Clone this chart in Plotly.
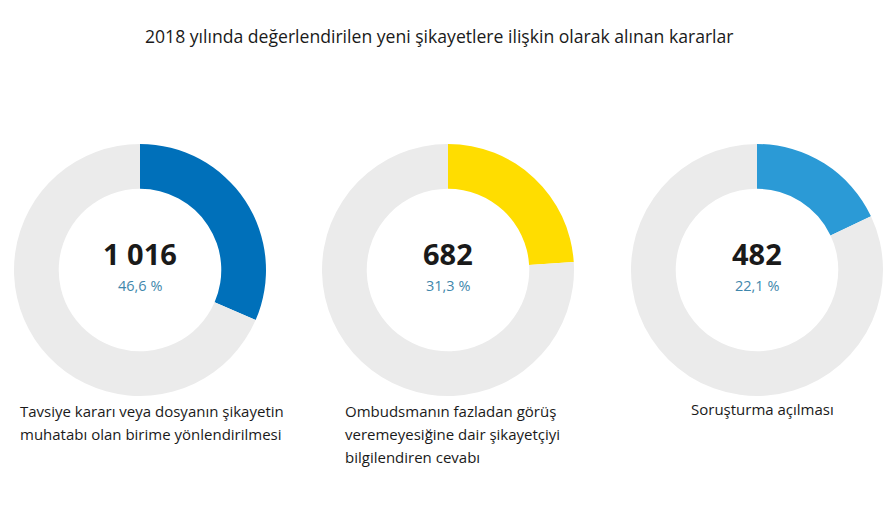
import plotly.graph_objects as go

title = "2018 yılında değerlendirilen yeni şikayetlere ilişkin olarak alınan kararlar"
counts_text = ["1 016", "682", "482"]
share_labels = ["46,6 %", "31,3 %", "22,1 %"]
arc_share = [31.5, 24.0, 18.0]  # share of ring drawn
colors = ["#0070BA", "#FFDD00", "#2B9AD6"]
captions = [
    ["Tavsiye kararı veya dosyanın şikayetin", "muhatabı olan birime yönlendirilmesi"],
    ["Ombudsmanın fazladan görüş", "veremeyesiğine dair şikayetçiyi", "bilgilendiren cevabı"],
    ["Soruşturma açılması"],
]

W, H = 891, 512
centers_x = [140, 448, 757]
center_y = 270
R = 126

fig = go.Figure()
annotations = []
for i in range(3):
    cx = centers_x[i]
    dom_x = [(cx - R) / W, (cx + R) / W]
    dom_y = [1 - (center_y + R) / H, 1 - (center_y - R) / H]
    fig.add_trace(go.Pie(
        values=[arc_share[i], 100 - arc_share[i]],
        marker=dict(colors=[colors[i], "#EBEBEB"], line=dict(width=0)),
        hole=0.645, sort=False, direction="clockwise", rotation=0,
        textinfo="none", hoverinfo="skip", showlegend=False,
        domain=dict(x=dom_x, y=dom_y),
    ))
    annotations.append(dict(
        x=cx / W, y=1 - 274 / H, xref="paper", yref="paper",
        text="<b>" + counts_text[i] + "</b>", showarrow=False,
        font=dict(size=29, color="#1A1A1A", family="Open Sans"),
        xanchor="center", yanchor="bottom", borderpad=0))
    annotations.append(dict(
        x=cx / W, y=1 - 275 / H, xref="paper", yref="paper",
        text=share_labels[i], showarrow=False,
        font=dict(size=14.5, color="#3F87AC", family="Open Sans"),
        xanchor="center", yanchor="top", borderpad=0))

cap_x = [18, 343, 762]
cap_anchor = ["left", "left", "center"]
for i in range(3):
    for j, line in enumerate(captions[i]):
        yy = (411 if i < 2 else 409) + 23 * j
        annotations.append(dict(
            x=cap_x[i] / W, y=1 - yy / H, xref="paper", yref="paper",
            text=line, showarrow=False,
            font=dict(size=15, color="#1A1A1A", family="Open Sans"),
            xanchor=cap_anchor[i], yanchor="middle"))

annotations.append(dict(
    x=439 / W, y=1 - 36 / H, xref="paper", yref="paper",
    text=title, showarrow=False,
    font=dict(size=17.6, color="#1A1A1A", family="Open Sans"),
    xanchor="center", yanchor="middle"))

fig.update_layout(
    width=W, height=H, margin=dict(l=0, r=0, t=0, b=0),
    paper_bgcolor="white", plot_bgcolor="white",
    annotations=annotations,
)
fig.write_html("out.html")
